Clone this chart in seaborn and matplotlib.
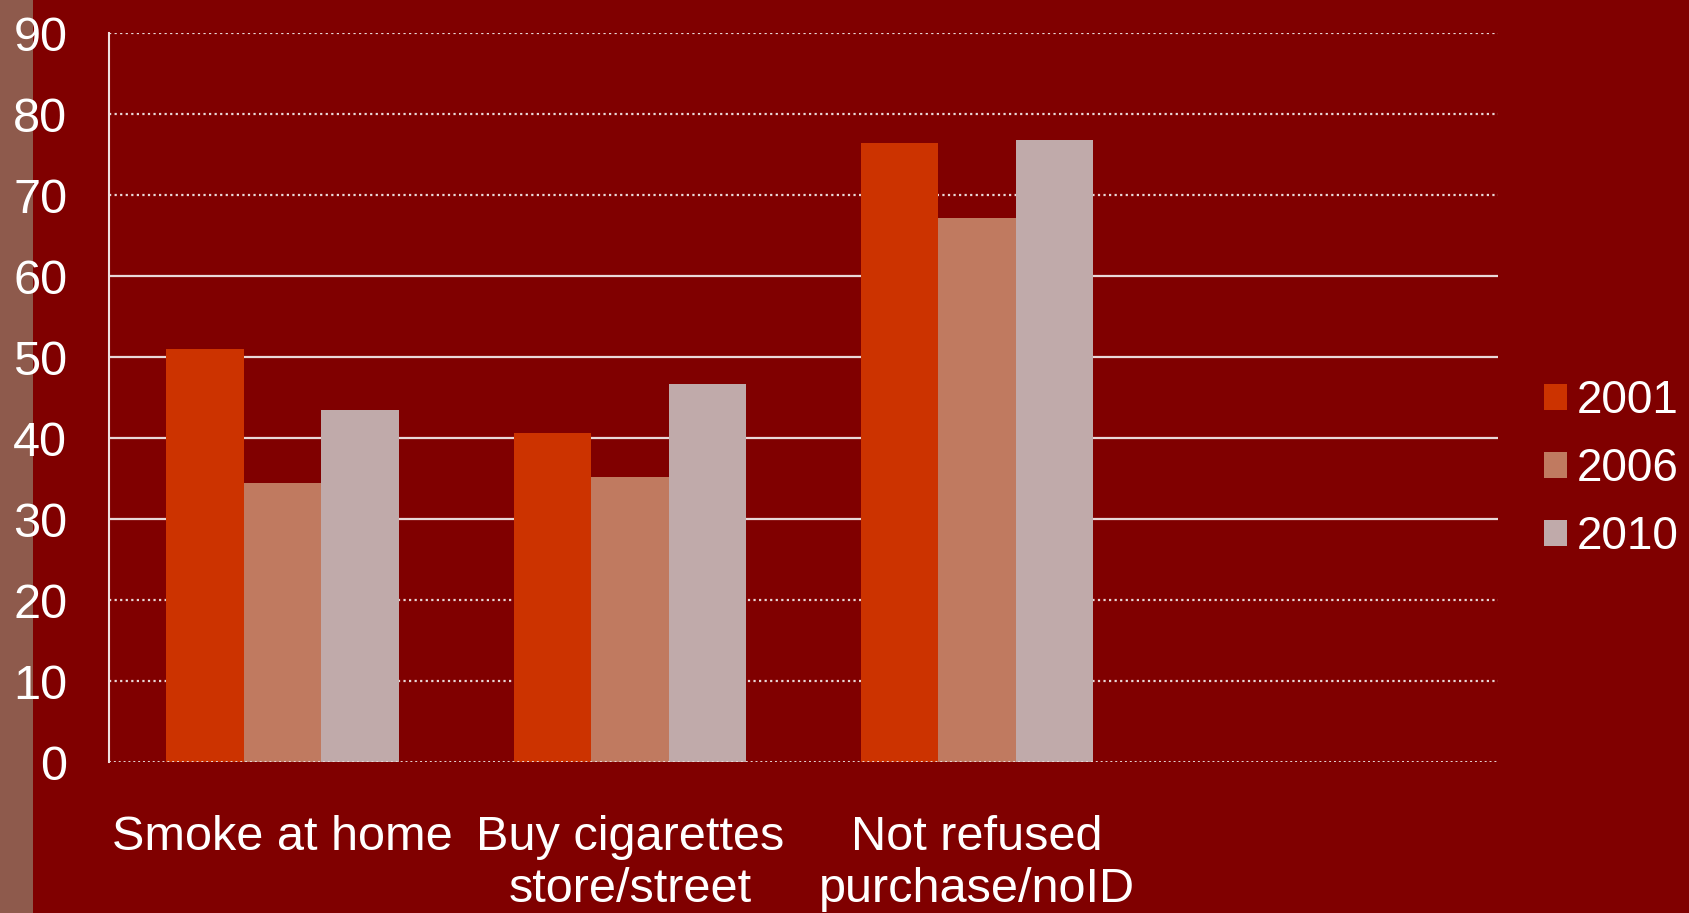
import matplotlib
matplotlib.use("Agg")
import matplotlib.pyplot as plt
import seaborn as sns
import pandas as pd

categories = ["Smoke at home", "Buy cigarettes\nstore/street", "Not refused\npurchase/noID"]
years = ["2001", "2006", "2010"]
v2001 = [51, 40.7, 76.4]
v2006 = [34.5, 35.2, 67.2]
v2010 = [43.5, 46.7, 76.8]
yticks = [0, 10, 20, 30, 40, 50, 60, 70, 80, 90]

rows = []
for yr, vals in zip(years, [v2001, v2006, v2010]):
    for c, v in zip(categories, vals):
        rows.append({"cat": c, "year": yr, "val": v})
df = pd.DataFrame(rows)

sns.set_theme(style="white")
plt.rcParams['font.family'] = ['Liberation Sans', 'DejaVu Sans']

BG = "#800000"
palette = {"2001": "#CC3300", "2006": "#C07A60", "2010": "#C0AAAA"}

fig = plt.figure(figsize=(16.9, 9.13), dpi=100, facecolor=BG)
# decorative strip on the left (behind everything)
strip = fig.add_axes([0, 0, 33 / 1690, 1], zorder=-5)
strip.set_facecolor("#8E5A4C")
strip.set_xticks([]); strip.set_yticks([])
for s in strip.spines.values():
    s.set_visible(False)

ax = fig.add_axes([109 / 1690, 1 - 762 / 913, (1498 - 109) / 1690, (762 - 33.4) / 913])
ax.set_facecolor(BG)

sns.barplot(data=df, x="cat", y="val", hue="year", order=categories, hue_order=years,
            palette=palette, width=0.67, saturation=1, ax=ax, zorder=3, edgecolor="none")

ax.set_xlim(-0.5, 3.5)
ax.set_ylim(0, 90)
ax.set_yticks(yticks)
ax.set_yticklabels([str(t) for t in yticks])
ax.set_xlabel("")
ax.set_ylabel("")

# gridlines
for t in yticks[1:]:
    if t in (30, 40, 50, 60):
        ax.axhline(t, color="#E8D8D8", lw=1.6, zorder=1)
    else:
        ax.axhline(t, color="#E8D8D8", lw=1.6, ls=(0, (1, 1.5)), zorder=1)
ax.axhline(0, color="#E8D8D8", lw=1.4, ls=(0, (1, 1.5)), zorder=4)

for s in ["top", "right", "bottom"]:
    ax.spines[s].set_visible(False)
ax.spines["left"].set_color("#F0E0E0")
ax.spines["left"].set_linewidth(1.5)

FS = 35
ax.tick_params(axis="y", colors="white", labelsize=FS, length=6, width=1.2, pad=24,
               labelcolor="white")
ax.set_xticks([-0.5, 0.5, 1.5, 2.5, 3.5], minor=True)
ax.tick_params(axis="x", which="major", length=0, pad=38, labelsize=FS, labelcolor="white")
ax.tick_params(axis="x", which="minor", length=8, width=1.2, color="#F0E0E0", direction="out")
for lbl in ax.get_xticklabels():
    lbl.set_linespacing(1.2)

leg = ax.legend(loc="center left", bbox_to_anchor=(1.033, 0.402), frameon=False,
                fontsize=33, labelcolor="white", handlelength=0.5, handleheight=0.5,
                handletextpad=0.22, labelspacing=0.52, borderaxespad=0, borderpad=0)

fig.savefig("out.png", dpi=100, facecolor=BG)
